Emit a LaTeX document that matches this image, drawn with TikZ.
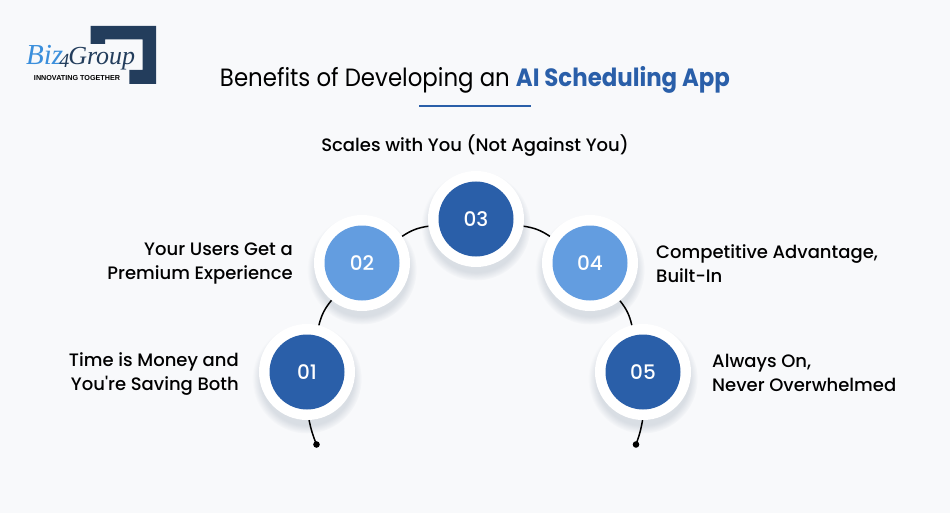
\documentclass[tikz,border=0pt]{standalone}
\usepackage{fontspec}
\setmainfont{Poppins}
\newfontfamily\headingfont[FakeStretch=0.915]{Poppins}
\newfontfamily\mediumfont{Poppins Medium}
\newfontfamily\logofont{Liberation Serif}
\newfontfamily\taglinefont{Liberation Sans}
\usetikzlibrary{shadows}
\definecolor{pagebg}{HTML}{F8F9FB}
\definecolor{darkblue}{HTML}{2A5FA9}
\definecolor{lightblue}{HTML}{639DE0}
\definecolor{logoblue}{HTML}{233D5C}
\definecolor{bizblue}{HTML}{3B8FDC}
\tikzset{
  ring/.style={circle,fill=white,minimum size=96pt,inner sep=0pt,
    circular drop shadow={shadow xshift=0pt,shadow yshift=-6pt,shadow scale=1.14,opacity=.14,fill=logoblue}},
  disc/.style={circle,minimum size=75pt,inner sep=0pt,text=white,font=\mediumfont\fontsize{20}{20}\selectfont},
  caption/.style={font=\mediumfont\fontsize{18}{24}\selectfont,text=black,inner sep=0pt},
  link/.style={line width=1.5pt,black}
}
\begin{document}
\begin{tikzpicture}[x=1pt,y=-1pt]
  \useasboundingbox[fill=pagebg] (0,0) rectangle (950,513);
  % logo
  \fill[logoblue] (90.7,26) -- (156,26) -- (156,84) -- (129.3,84) -- (129.3,70) -- (142.7,70) -- (142.7,39.5) -- (105,39.5) -- (105,44) -- (90.7,44) -- cycle;
  \node[font=\logofont\itshape\fontsize{29}{29}\selectfont,inner sep=0pt,anchor=base west] (logo) at (26,65) {\textcolor{bizblue}{Biz}\kern-4pt\raisebox{-3pt}{\textcolor{logoblue}{\fontsize{20}{20}\selectfont 4}}\kern-1pt\textcolor{logoblue}{\fontsize{26}{26}\selectfont Group}};
  \node[font=\taglinefont\bfseries\fontsize{7.2}{8}\selectfont,inner sep=0pt] (tagline) at (77,78) {INNOVATING TOGETHER};
  % heading
  \node[font=\headingfont\fontsize{25}{30}\selectfont,inner sep=0pt] (heading) at (475,80) {Benefits of Developing an \textcolor{darkblue}{\bfseries AI Scheduling App}};
  \coordinate (ruleleft) at (419,106);
  \coordinate (ruleright) at (531,106);
  \draw[darkblue,line width=1.5pt] (ruleleft) -- (ruleright);
  % rings
  \node[ring] (ring3) at (476,219) {};
  \node[ring] (ring2) at (362,263) {};
  \node[ring] (ring4) at (590,263) {};
  \node[ring] (ring1) at (307,372) {};
  \node[ring] (ring5) at (643,372) {};
  \node[disc,fill=darkblue] (step1) at (ring1) {01};
  \node[disc,fill=lightblue] (step2) at (ring2) {02};
  \node[disc,fill=darkblue] (step3) at (ring3) {03};
  \node[disc,fill=lightblue] (step4) at (ring4) {04};
  \node[disc,fill=darkblue] (step5) at (ring5) {05};
  % arc
  \draw[link] (ring1) to[bend left=12.5] (ring2);
  \draw[link] (ring2) to[bend left=12.5] (ring3);
  \draw[link] (ring3) to[bend left=12.5] (ring4);
  \draw[link] (ring4) to[bend left=12.5] (ring5);
  \coordinate (tail1) at (316.5,444.5);
  \coordinate (tail5) at (636,444.5);
  \draw[link] (ring1) to[bend right=5] (tail1);
  \draw[link] (ring5) to[bend left=5] (tail5);
  \fill (tail1) circle (3.3pt);
  \fill (tail5) circle (3.3pt);
  % texts
  \node[caption,align=center] (text3) at (475,145.5) {Scales with You (Not Against You)};
  \node[caption,align=right,anchor=east] (text2) at (293,263.5) {Your Users Get a\\Premium Experience};
  \node[caption,align=right,anchor=east] (text1) at (239,374) {Time is Money and\\You\textquotesingle re Saving Both};
  \node[caption,align=left,anchor=west] (text4) at (656,264) {Competitive Advantage,\\Built-In};
  \node[caption,align=left,anchor=west] (text5) at (712,373) {Always On,\\Never Overwhelmed};
\end{tikzpicture}
\end{document}
